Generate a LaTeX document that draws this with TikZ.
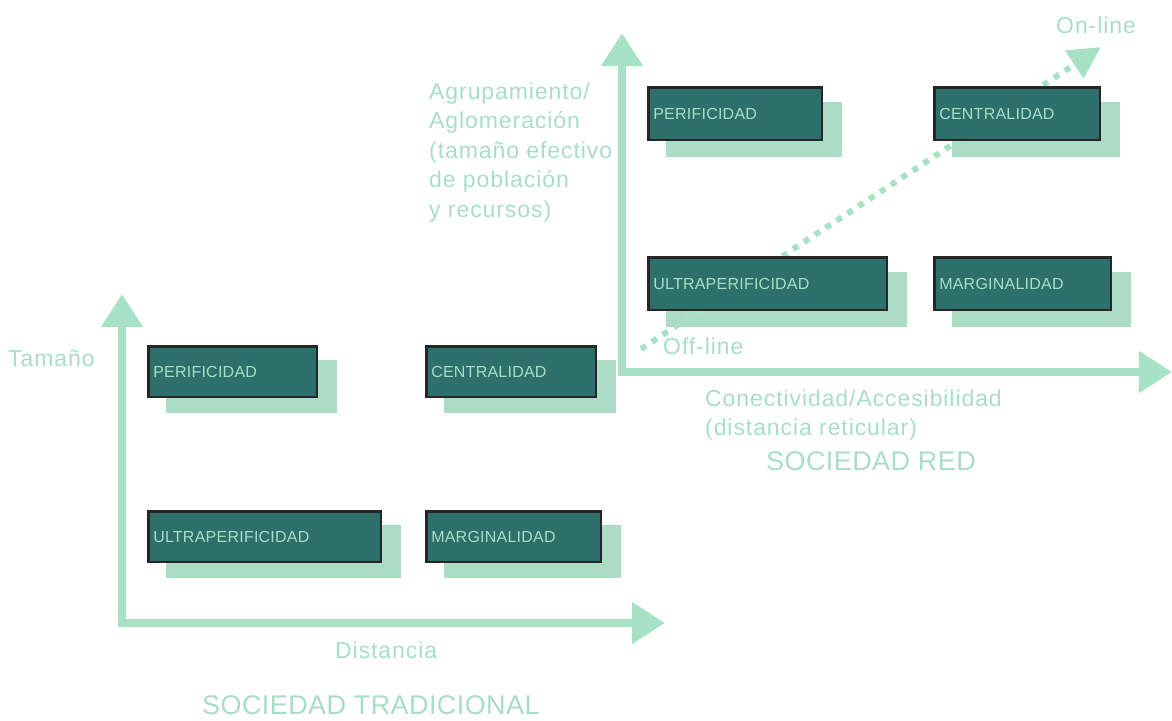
\documentclass[tikz,border=0pt]{standalone}
\usepackage{fontspec}
\setmainfont{Liberation Sans}
\usetikzlibrary{arrows.meta}
\pgfdeclarelayer{shadowlayer}
\pgfdeclarelayer{linelayer}
\pgfsetlayers{shadowlayer,linelayer,main}
\definecolor{axisc}{HTML}{A8E2C6}
\definecolor{shadowc}{HTML}{ABDCC6}
\definecolor{boxfill}{HTML}{2C6F6B}
\definecolor{boxline}{HTML}{262626}
\definecolor{lbl}{HTML}{A8DEC6}
\begin{document}
\begin{tikzpicture}[x=1pt,y=-1pt,
  box/.style={draw=boxline, line width=2.5pt, fill=boxfill, text=lbl, anchor=north west,
    inner xsep=5pt, inner ysep=0pt, align=left,
    font=\fontsize{16}{18}\selectfont\addfontfeature{LetterSpace=1.5}},
  lab/.style={text=lbl, anchor=base west, inner sep=0pt,
    font=\fontsize{23}{28}\selectfont\addfontfeature{LetterSpace=4}},
  ttl/.style={text=lbl, anchor=base west, inner sep=0pt,
    font=\fontsize{27}{32}\selectfont\addfontfeature{LetterSpace=1.5}},
  axisline/.style={draw=axisc, line width=8pt, line join=miter,
    {Triangle[width=40pt,length=33pt,fill=axisc]}-{Triangle[width=40pt,length=33pt,fill=axisc]}},
  dotline/.style={draw=axisc, line width=6pt, dash pattern=on 6pt off 7pt,
    -{Triangle[width=32pt,length=32pt,fill=axisc]}}
]
\useasboundingbox (0,0) rectangle (1172,720);

% axes
\coordinate (L0) at (122,623);
\coordinate (Ly) at (122,294);
\coordinate (Lx) at (665,623);
\draw[axisline] (Ly) -- (L0) -- (Lx);
\coordinate (R0) at (622,372);
\coordinate (Ry) at (622,33);
\coordinate (Rx) at (1172,372);
\draw[axisline] (Ry) -- (R0) -- (Rx);

% boxes: left
\node[box, minimum height=50.5pt, text width=158.5pt] (lp) at (147,345) {PERIFICIDAD};
\node[box, minimum height=50.5pt, text width=159.5pt] (lc) at (425,345) {CENTRALIDAD};
\node[box, minimum height=50.5pt, text width=222.5pt] (lu) at (147,510) {ULTRAPERIFICIDAD};
\node[box, minimum height=50.5pt, text width=164.5pt] (lm) at (425,510) {MARGINALIDAD};
% boxes: right
\node[box, minimum height=52.5pt, text width=163.5pt] (rp) at (647,86) {PERIFICIDAD};
\node[box, minimum height=52.5pt, text width=155.5pt] (rc) at (933,86) {CENTRALIDAD};
\node[box, minimum height=52.5pt, text width=228.5pt] (ru) at (647,256) {ULTRAPERIFICIDAD};
\node[box, minimum height=52.5pt, text width=166.5pt] (rm) at (933,256) {MARGINALIDAD};

\begin{pgfonlayer}{shadowlayer}
\foreach \n in {lp,lc,lu,lm}
  \fill[shadowc] ([shift={(19,15)}]\n.north west) rectangle ([shift={(19,15)}]\n.south east);
\foreach \n in {rp,rc,ru,rm}
  \fill[shadowc] ([shift={(19,16)}]\n.north west) rectangle ([shift={(19,16)}]\n.south east);
\end{pgfonlayer}

% dotted diagonal
\coordinate (off) at (641,349);
\coordinate (on) at (1101,47);
\begin{pgfonlayer}{linelayer}
\draw[dotline] (off) -- (on);
\end{pgfonlayer}

% labels
\node[lab] (tam) at (8,366) {Tamaño};
\node[lab] (dist) at (335,658) {Distancia};
\node[ttl] (st) at (202,714) {SOCIEDAD TRADICIONAL};
\node[lab] (ag1) at (429,99) {Agrupamiento/};
\node[lab] (ag2) at (429,128.5) {Aglomeración};
\node[lab] (ag3) at (429,158) {(tamaño efectivo};
\node[lab] (ag4) at (429,187.5) {de población};
\node[lab] (ag5) at (429,217) {y recursos)};
\node[lab] (offl) at (663,354) {Off-line};
\node[lab] (onl) at (1056,33) {On-line};
\node[lab] (con) at (705,406) {Conectividad/Accesibilidad};
\node[lab] (dr) at (705,435) {(distancia reticular)};
\node[ttl] (sr) at (766,470) {SOCIEDAD RED};
\end{tikzpicture}
\end{document}
